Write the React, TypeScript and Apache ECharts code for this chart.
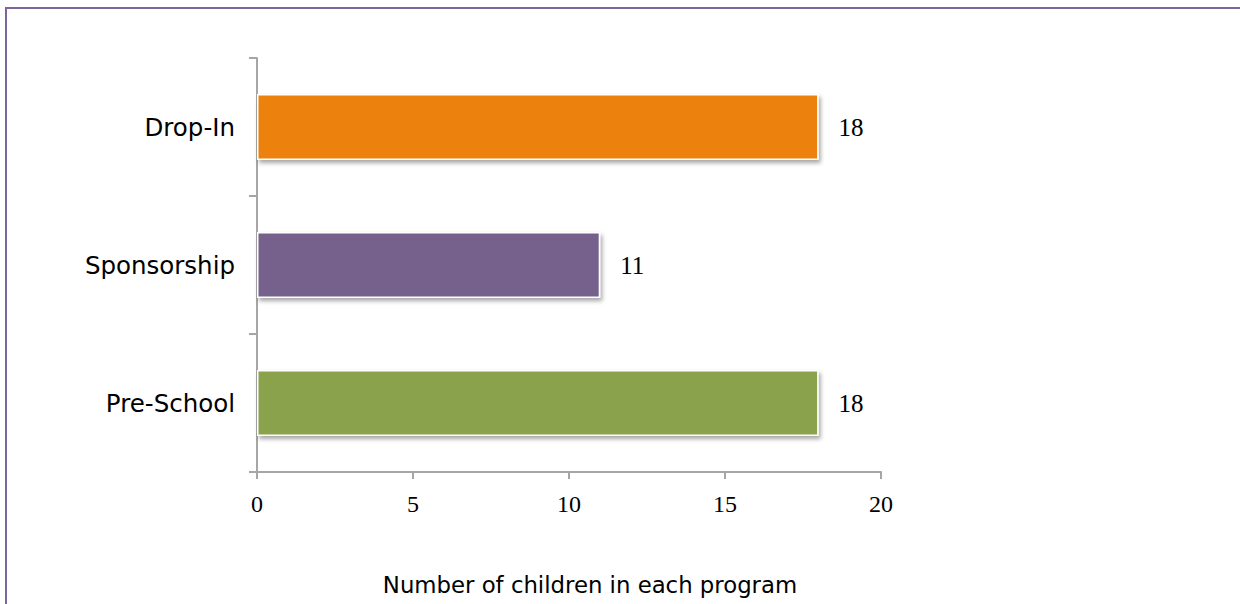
import React, { useEffect, useRef } from "react";
import * as echarts from "echarts";

const categories = ["Pre-School", "Sponsorship", "Drop-In"];
const values = [18, 11, 18];
const colors = ["#8AA24C", "#76608C", "#EC8209"];
const xTicks = [0, 5, 10, 15, 20];
const axisTitle = "Number of children in each program";

export default function App() {
  const ref = useRef<HTMLDivElement>(null);
  useEffect(() => {
    const chart = echarts.init(ref.current!, undefined, { renderer: "svg" });
    chart.setOption({
      animation: false,
      backgroundColor: "transparent",
      grid: { left: 257, top: 58, right: 359, bottom: 132, containLabel: false },
      xAxis: {
        type: "value",
        min: xTicks[0],
        max: xTicks[xTicks.length - 1],
        interval: 5,
        splitLine: { show: false },
        axisLine: { show: true, lineStyle: { color: "#A6A6A6", width: 2 } },
        axisTick: { show: true, length: 7, lineStyle: { color: "#A6A6A6", width: 2 } },
        axisLabel: {
          margin: 20,
          color: "#000",
          fontFamily: "Liberation Serif",
          fontSize: 24,
        },
      },
      yAxis: {
        type: "category",
        data: categories,
        axisLine: { show: true, lineStyle: { color: "#A6A6A6", width: 2 } },
        axisTick: { show: true, length: 8, lineStyle: { color: "#A6A6A6", width: 2 } },
        axisLabel: {
          margin: 22,
          color: "#000",
          fontFamily: "DejaVu Sans",
          fontSize: 24.5,
        },
      },
      series: [
        {
          type: "bar",
          barWidth: "48%",
          data: values.map((v, i) => ({
            value: v,
            itemStyle: {
              color: colors[i],
              borderColor: "#ffffff",
              borderWidth: 1.5,
              shadowBlur: 4,
              shadowColor: "rgba(0,0,0,0.35)",
              shadowOffsetX: 2,
              shadowOffsetY: 3,
            },
          })),
          label: {
            show: true,
            position: "right",
            distance: 20,
            color: "#000",
            fontFamily: "Liberation Serif",
            fontSize: 25,
          },
        },
      ],
      graphic: [
        {
          type: "text",
          x: 590,
          y: 585,
          style: {
            text: axisTitle,
            fontFamily: "DejaVu Sans",
            fontSize: 22.8,
            fill: "#000",
            textAlign: "center",
            textVerticalAlign: "middle",
          },
        },
      ],
    });
    return () => chart.dispose();
  }, []);
  return (
    <div style={{ position: "fixed", left: 0, top: 0, width: 1240, height: 604, background: "#fff", overflow: "hidden" }}>
      <div
        style={{
          position: "absolute",
          left: 5,
          top: 7,
          width: 1300,
          height: 700,
          border: "2px solid #7B659B",
          boxSizing: "border-box",
        }}
      />
      <div ref={ref} style={{ position: "absolute", left: 0, top: 0, width: 1240, height: 604 }} />
    </div>
  );
}
